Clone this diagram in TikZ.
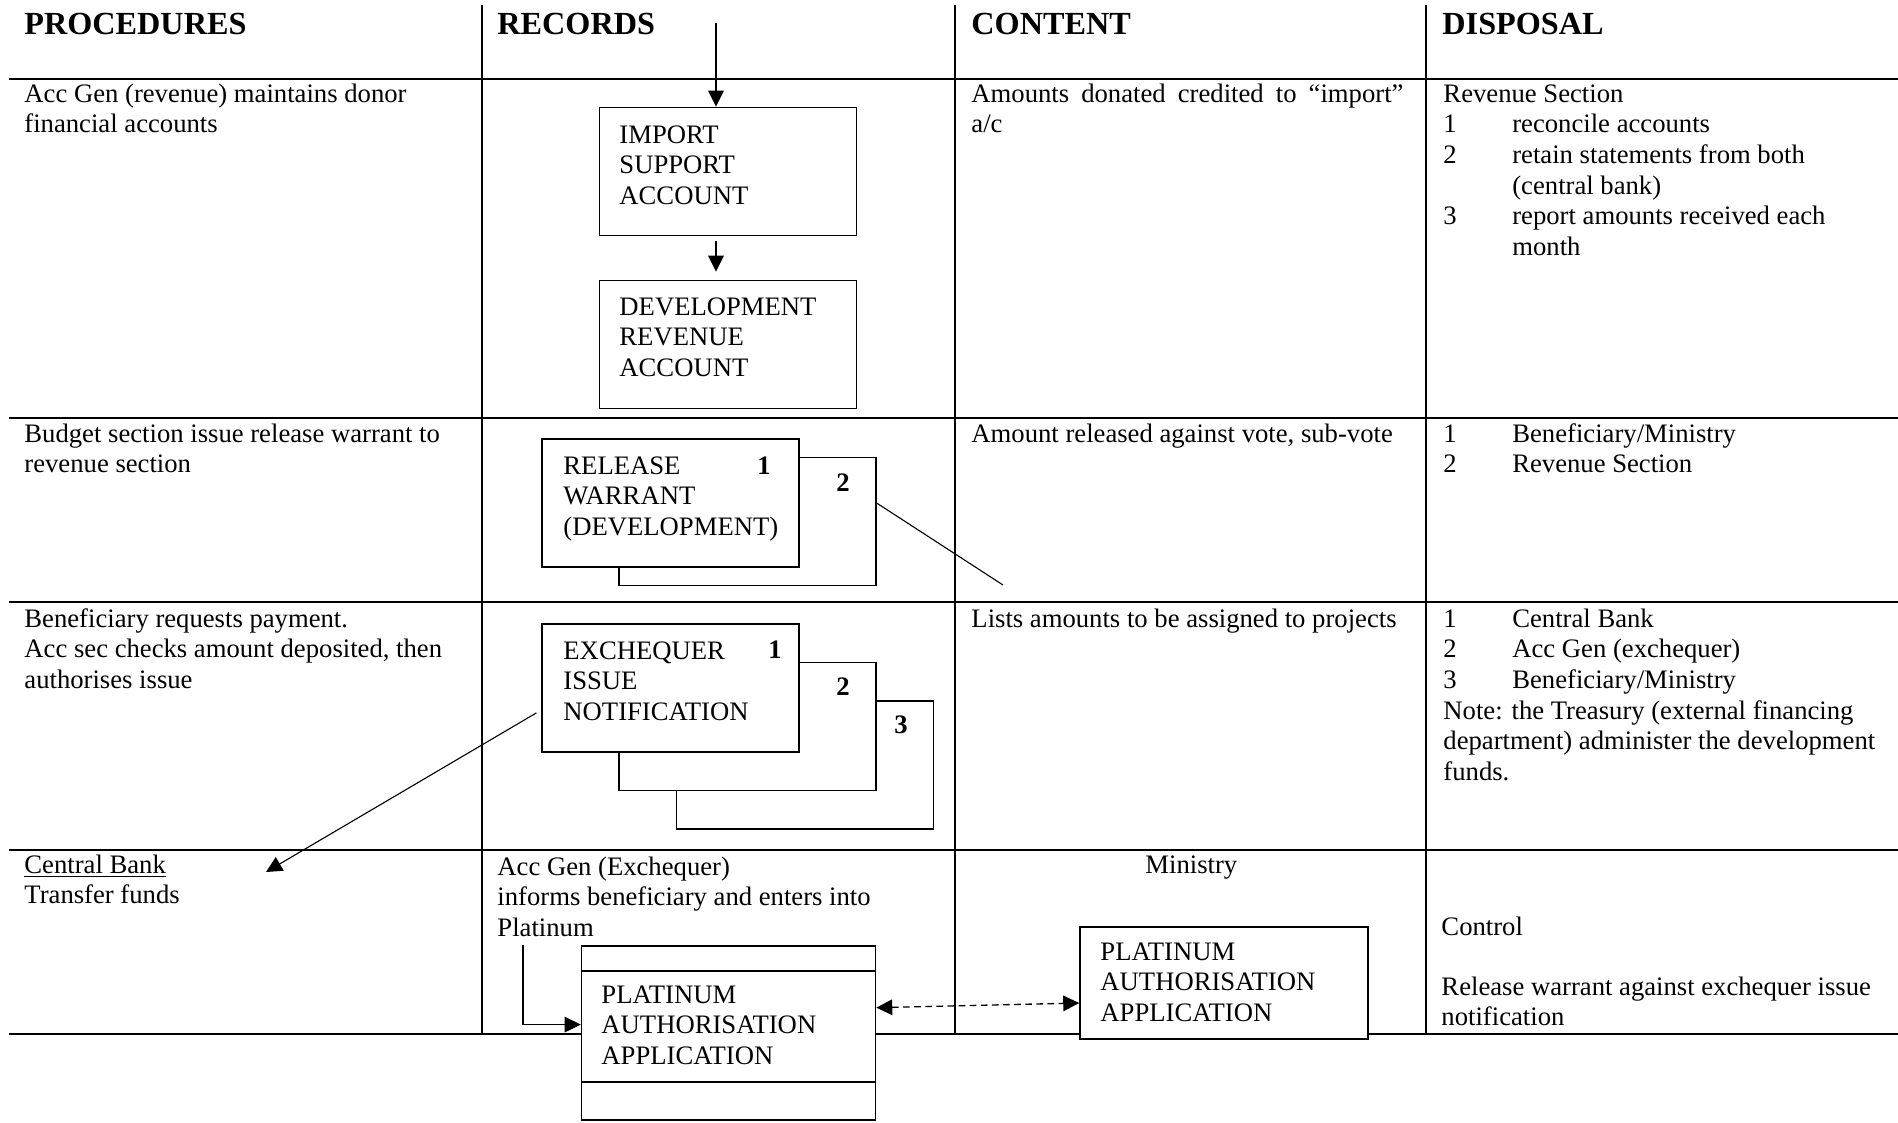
\documentclass[tikz,border=0pt]{standalone}
\usepackage{fontspec}
\setmainfont{Liberation Serif}
\usetikzlibrary{arrows.meta}

\newcommand{\bodyfont}{\fontsize{12}{13.8}\selectfont}
\newcommand{\headfont}{\fontsize{14.5}{16}\selectfont\bfseries}
\newcommand{\cellrows}[1]{\begin{tabular}[t]{@{}l@{}}#1\end{tabular}}
\newcommand{\numitem}[2]{\makebox[31pt][l]{#1}#2}

\tikzset{
  txt/.style={anchor=base west, inner sep=0pt, font=\bodyfont},
  head/.style={anchor=base west, inner sep=0pt, font=\headfont},
  num/.style={anchor=base west, inner sep=0pt, font=\bodyfont\bfseries},
  rowline/.style={line width=0.9pt},
  colline/.style={line width=0.6pt},
  recbox/.style={draw, fill=white, line width=0.7pt, inner sep=0pt,
                 minimum width=115.6pt, minimum height=57.6pt},
  tip/.tip={Triangle[length=7.2pt,width=7pt]},
  arr/.style={line width=0.5pt, -tip},
  link/.style={line width=0.5pt},
  dasharr/.style={line width=0.6pt, dash pattern=on 3pt off 2pt, tip-tip}
}

\begin{document}
\begin{tikzpicture}[x=0.45pt, y=-0.45pt]
\useasboundingbox (0,0) rectangle (1898,1122);

% table grid
\foreach \cx in {482,955,1426}
  \draw[colline] (\cx,5) -- (\cx,1034);
\foreach \ry in {79,418,602,850,1034}
  \draw[rowline] (9,\ry) -- (1898,\ry);

% column headings
\node[head] (hproc) at (24,34) {PROCEDURES};
\node[head] (hrec)  at (497,34) {RECORDS};
\node[head] (hcont) at (971,34) {CONTENT};
\node[head] (hdisp) at (1442,34) {DISPOSAL};

% row 1: donor accounts
\node[txt] (p1) at (24,102) {\cellrows{Acc Gen (revenue) maintains donor\\financial accounts}};
\node[txt] (c1) at (971,102) {\cellrows{\makebox[194.4pt][s]{Amounts donated credited to “import”}\\a/c}};
\node[txt] (d1) at (1443,102) {\cellrows{Revenue Section\\
  \numitem{1}{reconcile accounts}\\
  \numitem{2}{retain statements from both}\\
  \hspace*{31pt}(central bank)\\
  \numitem{3}{report amounts received each}\\
  \hspace*{31pt}month}};

\node[recbox] (import) at (728,171.5) {};
\node[txt] (importt) at (619,143) {\cellrows{IMPORT\\SUPPORT\\ACCOUNT}};
\node[recbox] (dev) at (728,344.5) {};
\node[txt] (devt) at (619,315) {\cellrows{DEVELOPMENT\\REVENUE\\ACCOUNT}};

\coordinate (topin) at (716,23);
\draw[arr] (topin) -- (topin |- import.north);
\draw[arr, shorten <=2.2pt, shorten >=3.6pt] (import.south -| topin) -- (dev.north -| topin);

% row 2: release warrant
\node[txt] (p2) at (24,442) {\cellrows{Budget section issue release warrant to\\revenue section}};
\node[txt] (c2) at (971,442) {Amount released against vote, sub-vote};
\node[txt] (d2) at (1443,442) {\cellrows{\numitem{1}{Beneficiary/Ministry}\\\numitem{2}{Revenue Section}}};

\node[recbox] (rel2) at (747.5,521.5) {};
\node[recbox] (rel1) at (670.5,503) {};
\node[txt] (relt) at (563,474) {\cellrows{RELEASE\\WARRANT\\(DEVELOPMENT)}};
\node[num] (reln1) at (757,474) {1};
\node[num] (reln2) at (836,491) {2};

\coordinate (relend) at (1003,585);
\draw[link] ([yshift=8.3pt]rel2.east) -- (relend);

% row 3: exchequer issue notification
\node[txt] (p3) at (24,627) {\cellrows{Beneficiary requests payment.\\Acc sec checks amount deposited, then\\authorises issue}};
\node[txt] (c3) at (971,627) {Lists amounts to be assigned to projects};
\node[txt] (d3) at (1443,627) {\cellrows{\numitem{1}{Central Bank}\\
  \numitem{2}{Acc Gen (exchequer)}\\
  \numitem{3}{Beneficiary/Ministry}\\
  Note: the Treasury (external financing\\
  department) administer the development\\
  funds.}};

\node[recbox] (exch3) at (805,765) {};
\node[recbox] (exch2) at (747.5,726.5) {};
\node[recbox] (exch1) at (670.5,688) {};
\node[txt] (excht) at (563,659) {\cellrows{EXCHEQUER\\ISSUE\\NOTIFICATION}};
\node[num] (exchn1) at (768,658) {1};
\node[num] (exchn2) at (836,695) {2};
\node[num] (exchn3) at (894,733) {3};

% row 4: central bank and Platinum
\node[txt] (p4) at (24,873) {\cellrows{\underline{Central Bank}\\Transfer funds}};
\node[txt] (r4) at (497,875) {\cellrows{Acc Gen (Exchequer)\\informs beneficiary and enters into\\Platinum}};
\node[txt] (c4) at (1145,873) {Ministry};
\node[txt] (d4a) at (1441,935) {Control};
\node[txt] (d4b) at (1441,995) {\cellrows{Release warrant against exchequer issue\\notification}};

\coordinate (cbtip) at (266,872);
\draw[arr] ([xshift=-2.2pt,yshift=-11.2pt]exch1.west) -- (cbtip);

\node[draw, fill=white, line width=0.7pt, inner sep=0pt,
      minimum width=132.3pt, minimum height=78.3pt] (platL) at (728.5,1033) {};
\draw[line width=0.6pt] (platL.west |- 0,971) -- (platL.east |- 0,971);
\draw[line width=0.6pt] (platL.west |- 0,1082) -- (platL.east |- 0,1082);
\node[txt] (platLt) at (601,1003) {\cellrows{PLATINUM\\AUTHORISATION\\APPLICATION}};

\node[draw, fill=white, line width=0.7pt, inner sep=0pt,
      minimum width=129.6pt, minimum height=50.4pt] (platR) at (1224,983) {};
\node[txt] (platRt) at (1100,960) {\cellrows{PLATINUM\\AUTHORISATION\\APPLICATION}};

\coordinate (elb) at (523,945);
\draw[arr] (elb) |- ([yshift=3.8pt]platL.west);
\draw[dasharr] ([yshift=11.4pt]platL.east) -- ([yshift=-9pt]platR.west);

\end{tikzpicture}
\end{document}
